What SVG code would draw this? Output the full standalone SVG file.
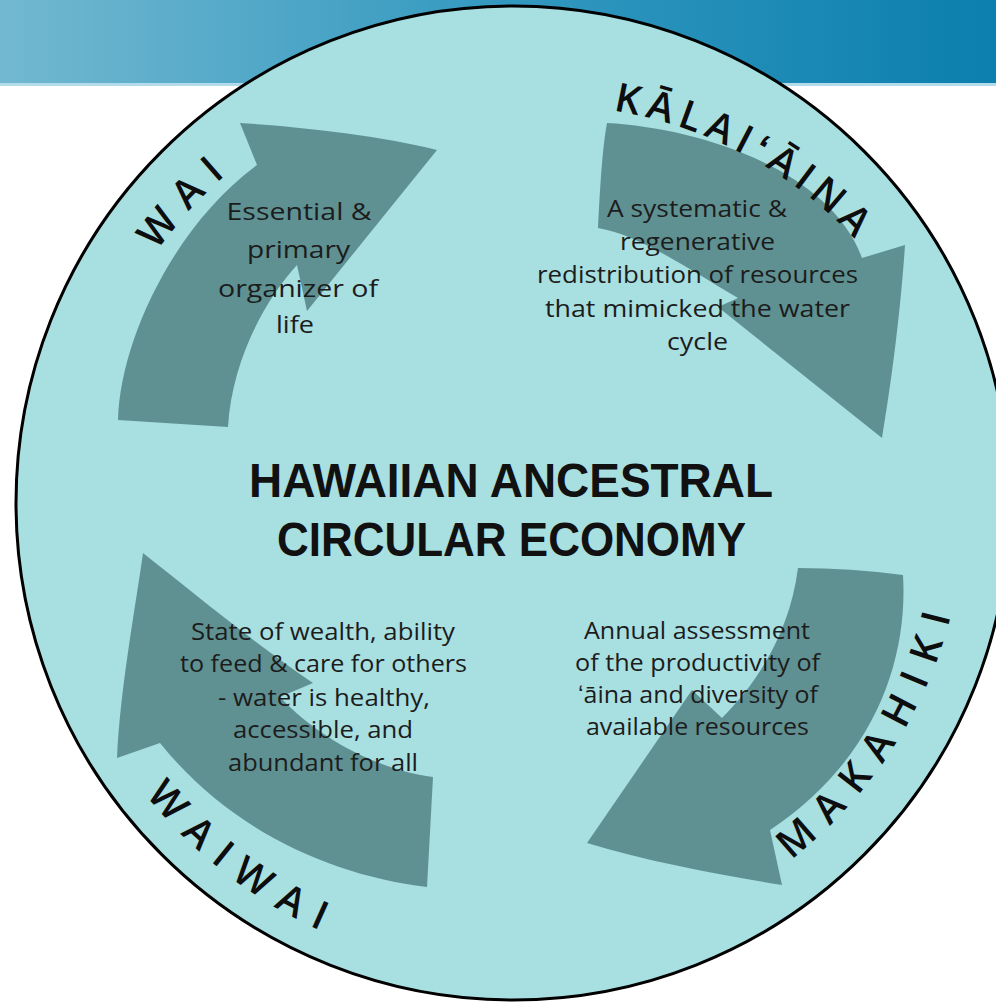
<svg xmlns="http://www.w3.org/2000/svg" width="996" height="1002" viewBox="0 0 996 1002">
<defs>
<linearGradient id="bannerGrad" x1="0" y1="0" x2="1" y2="0">
<stop offset="0" stop-color="#72b8d0"/>
<stop offset="0.5" stop-color="#3499c0"/>
<stop offset="1" stop-color="#0b7fae"/>
</linearGradient>
<path id="pWai" d="M 98.3 637.7 A 436 436 0 0 1 603.6 76.5"/>
<path id="pKalai" d="M 319.8 169.6 A 425 425 0 0 1 969.7 515.2"/>
<path id="pMakahiki" d="M 487.8 954.3 A 452 452 0 0 0 916.5 299.2"/>
<path id="pWaiwai" d="M 48.5 438.5 A 469 469 0 0 0 689.4 937.5"/>
</defs>
<style>
.body { font-family: "Open Sans", "Liberation Sans", sans-serif; font-size: 24px; fill: #1c1c1c; text-anchor: middle; }
.title { font-family: "Liberation Sans", "Open Sans", sans-serif; font-weight: 700; font-size: 49px; fill: #111111; text-anchor: middle; }
.label { font-family: "Open Sans", "Liberation Sans", sans-serif; font-weight: 600; font-size: 40px; fill: #0d0d0d; text-anchor: middle; }
.arrow { fill: #5f9192; }
</style>
<rect x="0" y="0" width="996" height="1002" fill="#ffffff"/>
<rect x="0" y="0" width="996" height="84" fill="url(#bannerGrad)"/>
<rect x="0" y="83" width="996" height="3" fill="#b3dbea"/>
<circle id="disc" cx="513" cy="503" r="497" fill="#a8dfe1" stroke="#000000" stroke-width="3"/>

<g id="connectors">
<path class="arrow" d="M 240 123 C 290 126 380 135 437 150 L 307 311 L 297 265 C 265 300 232 360 228 427 L 118 420 C 120 340 175 225 257 165 Z"/>
<path class="arrow" d="M 607 123 C 700 128 830 170 862 258 L 905 245 C 900 320 890 390 882 438 L 718 307 L 738 298 C 690 270 640 235 598 228 C 600 190 602 150 607 123 Z"/>
<path class="arrow" d="M 798 568 Q 850 568 903 575 C 908 660 875 760 770 830 L 782 885 C 720 875 650 862 587 843 L 692 690 L 722 718 C 760 680 790 630 798 568 Z"/>
<path class="arrow" d="M 143 553 C 190 590 250 640 313 683 L 280 697 C 320 740 380 770 433 777 L 427 887 C 330 875 230 830 160 743 L 117 758 C 120 690 135 610 143 553 Z"/>
</g>

<g id="title">
<text class="title" x="511" y="497" textLength="524" lengthAdjust="spacingAndGlyphs">HAWAIIAN ANCESTRAL</text>
<text class="title" x="511.5" y="556" textLength="469" lengthAdjust="spacingAndGlyphs">CIRCULAR ECONOMY</text>
</g>

<g id="wai">
<text class="label" letter-spacing="13"><textPath href="#pWai" startOffset="463">WAI</textPath></text>
<text class="body" x="299" y="220" textLength="145" lengthAdjust="spacingAndGlyphs">Essential &amp;</text>
<text class="body" x="298.5" y="258" textLength="103" lengthAdjust="spacingAndGlyphs">primary</text>
<text class="body" x="298" y="296.5" textLength="160" lengthAdjust="spacingAndGlyphs">organizer of</text>
<text class="body" x="295" y="333" textLength="38" lengthAdjust="spacingAndGlyphs">life</text>
</g>

<g id="kalaiaina">
<text class="label" letter-spacing="6.5"><textPath href="#pKalai" startOffset="448">KĀLAIʻĀINA</textPath></text>
<text class="body" x="697" y="217.3" textLength="180" lengthAdjust="spacingAndGlyphs">A systematic &amp;</text>
<text class="body" x="697.5" y="250" textLength="155" lengthAdjust="spacingAndGlyphs">regenerative</text>
<text class="body" x="697.5" y="283.3" textLength="321" lengthAdjust="spacingAndGlyphs">redistribution of resources</text>
<text class="body" x="697.5" y="316.7" textLength="305" lengthAdjust="spacingAndGlyphs">that mimicked the water</text>
<text class="body" x="697.5" y="350" textLength="61" lengthAdjust="spacingAndGlyphs">cycle</text>
</g>

<g id="makahiki">
<text class="label" letter-spacing="14.5"><textPath href="#pMakahiki" startOffset="480">MAKAHIKI</textPath></text>
<text class="body" x="697" y="639.3" textLength="226" lengthAdjust="spacingAndGlyphs">Annual assessment</text>
<text class="body" x="697.5" y="670.7" textLength="245" lengthAdjust="spacingAndGlyphs">of the productivity of</text>
<text class="body" x="698" y="703.3" textLength="240" lengthAdjust="spacingAndGlyphs">ʻāina and diversity of</text>
<text class="body" x="697.5" y="735" textLength="223" lengthAdjust="spacingAndGlyphs">available resources</text>
</g>

<g id="waiwai">
<text class="label" letter-spacing="14"><textPath href="#pWaiwai" startOffset="498">WAIWAI</textPath></text>
<text class="body" x="323" y="640" textLength="264" lengthAdjust="spacingAndGlyphs">State of wealth, ability</text>
<text class="body" x="323.5" y="672.3" textLength="287" lengthAdjust="spacingAndGlyphs">to feed &amp; care for others</text>
<text class="body" x="324" y="705.7" textLength="212" lengthAdjust="spacingAndGlyphs">- water is healthy,</text>
<text class="body" x="323" y="738.3" textLength="180" lengthAdjust="spacingAndGlyphs">accessible, and</text>
<text class="body" x="323" y="770.7" textLength="190" lengthAdjust="spacingAndGlyphs">abundant for all</text>
</g>
</svg>
